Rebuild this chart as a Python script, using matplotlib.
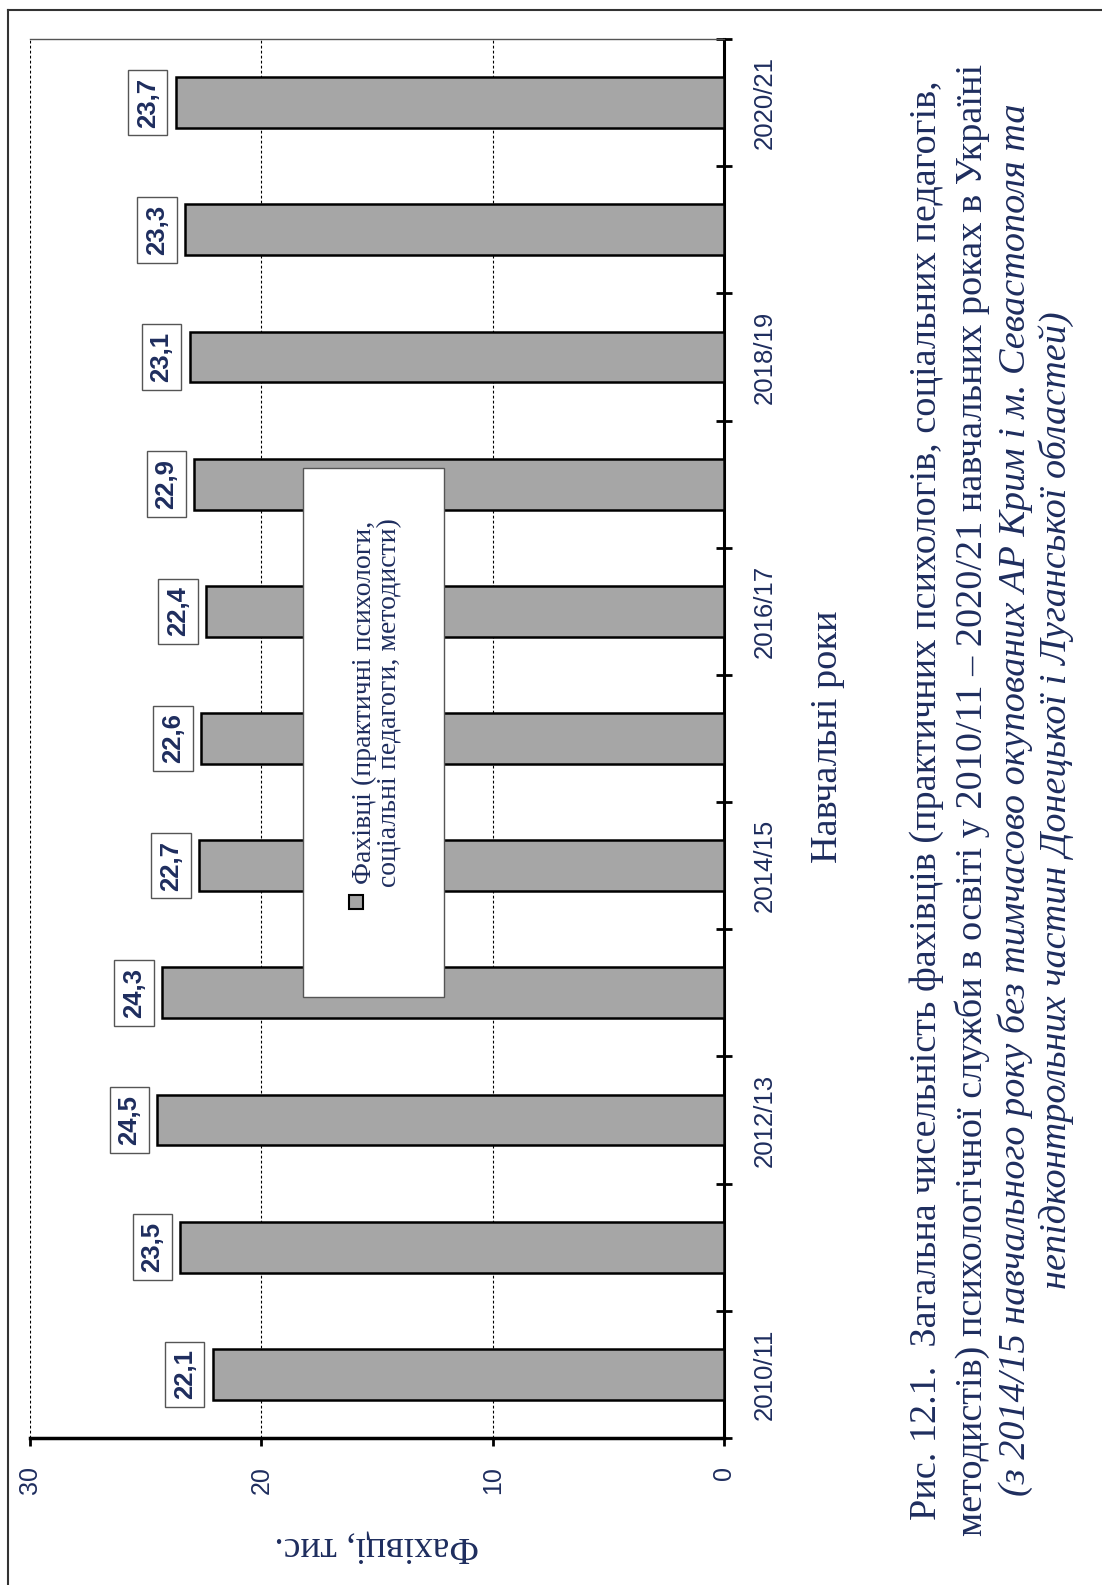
import numpy as np
import matplotlib.pyplot as plt
from matplotlib.patches import Rectangle
from matplotlib.lines import Line2D
from matplotlib.ticker import FixedLocator

years = ["2010/11", "2011/12", "2012/13", "2013/14", "2014/15", "2015/16",
         "2016/17", "2017/18", "2018/19", "2019/20", "2020/21"]
values = [22.1, 23.5, 24.5, 24.3, 22.7, 22.6, 22.4, 22.9, 23.1, 23.3, 23.7]
value_ticks = [0, 10, 20, 30]

legend_text = "Фахівці (практичні психологи,\nсоціальні педагоги, методисти)"
caption_lines = [
    "Рис. 12.1.  Загальна чисельність фахівців (практичних психологів, соціальних педагогів,",
    "методистів) психологічної служби в освіті у 2010/11 – 2020/21 навчальних роках в Україні",
    "(з 2014/15 навчального року без тимчасово окупованих АР Крим і м. Севастополя та",
    "непідконтрольних частин Донецької і Луганської областей)",
]

navy = '#1e2d5e'
W, H = 1102, 1585
sans = 'Liberation Sans'
serif = 'Liberation Serif'

fig = plt.figure(figsize=(W / 100, H / 100), dpi=100)
# plot area in pixels: x 30..724, y 39..1438
ax = fig.add_axes([30 / W, 1 - 1438 / H, 694 / W, 1399 / H])

pos = np.arange(len(years))
ax.barh(pos, values, height=0.4, color='#a6a6a6', edgecolor='black',
        linewidth=1.8, zorder=3)
ax.set_xlim(30, 0)
ax.set_ylim(-0.5, len(years) - 0.5)

# value gridlines
for v in value_ticks[1:]:
    ax.axvline(v, color='black', lw=0.8, ls=(0, (2.5, 2)), zorder=1)

# spines
ax.spines['left'].set_visible(False)
ax.spines['top'].set_color('#555555')
ax.spines['top'].set_linewidth(1.0)
ax.spines['right'].set_linewidth(2.2)
ax.spines['bottom'].set_linewidth(2.5)

# value axis (bottom)
ax.set_xticks(value_ticks)
ax.set_xticklabels([str(v) for v in value_ticks], rotation=90, ha='center',
                   va='top', fontsize=18, family=sans, color=navy)
ax.tick_params(axis='x', direction='out', length=6, width=2, pad=14)

# category axis (right)
ax.yaxis.tick_right()
ax.set_yticks(pos[::2])
ax.set_yticklabels(years[::2], rotation=90, ha='left', va='center',
                   fontsize=18.5, family=sans, color=navy)
ax.yaxis.set_minor_locator(FixedLocator(np.arange(-0.5, len(years), 1.0)))
ax.tick_params(axis='y', which='major', length=0, pad=21)
ax.tick_params(axis='y', which='minor', direction='inout', length=12, width=2,
               right=True, left=False)

# data labels
for i, v in enumerate(values):
    ax.annotate(f"{v:.1f}".replace('.', ','), xy=(v, i), xytext=(-28, 0),
                textcoords='offset pixels', rotation=90, ha='center',
                va='center', fontsize=18.5, fontweight='bold', family=sans,
                color=navy, zorder=5,
                bbox=dict(boxstyle='square,pad=0.3', fc='white',
                          ec='#555555', lw=1))

# legend box
ax.add_patch(Rectangle((0.393, 0.315), 0.204, 0.378, transform=ax.transAxes,
                       fc='white', ec='#555555', lw=1, zorder=6))
ax.add_patch(Rectangle((0.459, 0.378), 0.0202, 0.01, transform=ax.transAxes,
                       fc='#a6a6a6', ec='black', lw=1.5, zorder=7))
ax.text(0.5, 0.526, legend_text, transform=ax.transAxes, rotation=90,
        ha='center', va='center', multialignment='center', fontsize=20,
        family=serif, color=navy, linespacing=1.0, zorder=7)

# axis titles
fig.text(828 / W, 1 - 737 / H, "Навчальні роки", rotation=90, ha='center',
         va='center', fontsize=27.5, family=serif, color=navy)
fig.text(377 / W, 1 - 1547 / H, "Фахівці, тис.", rotation=180, ha='center',
         va='center', fontsize=27, family=serif, color=navy)

# caption
cap_x = [927, 972, 1015, 1056]
for k, (line, cx) in enumerate(zip(caption_lines, cap_x)):
    fig.text(cx / W, 1 - 800 / H, line, rotation=90, ha='center', va='center',
             fontsize=27.5, family=serif, color=navy,
             style='italic' if k >= 2 else 'normal')

# outer frame
fig.add_artist(Line2D([8 / W, 8 / W], [0, 1 - 10 / H], color='#333333', lw=1.5))
fig.add_artist(Line2D([8 / W, 1], [1 - 10 / H, 1 - 10 / H], color='#333333', lw=1.5))

fig.savefig('out.png', dpi=100)
